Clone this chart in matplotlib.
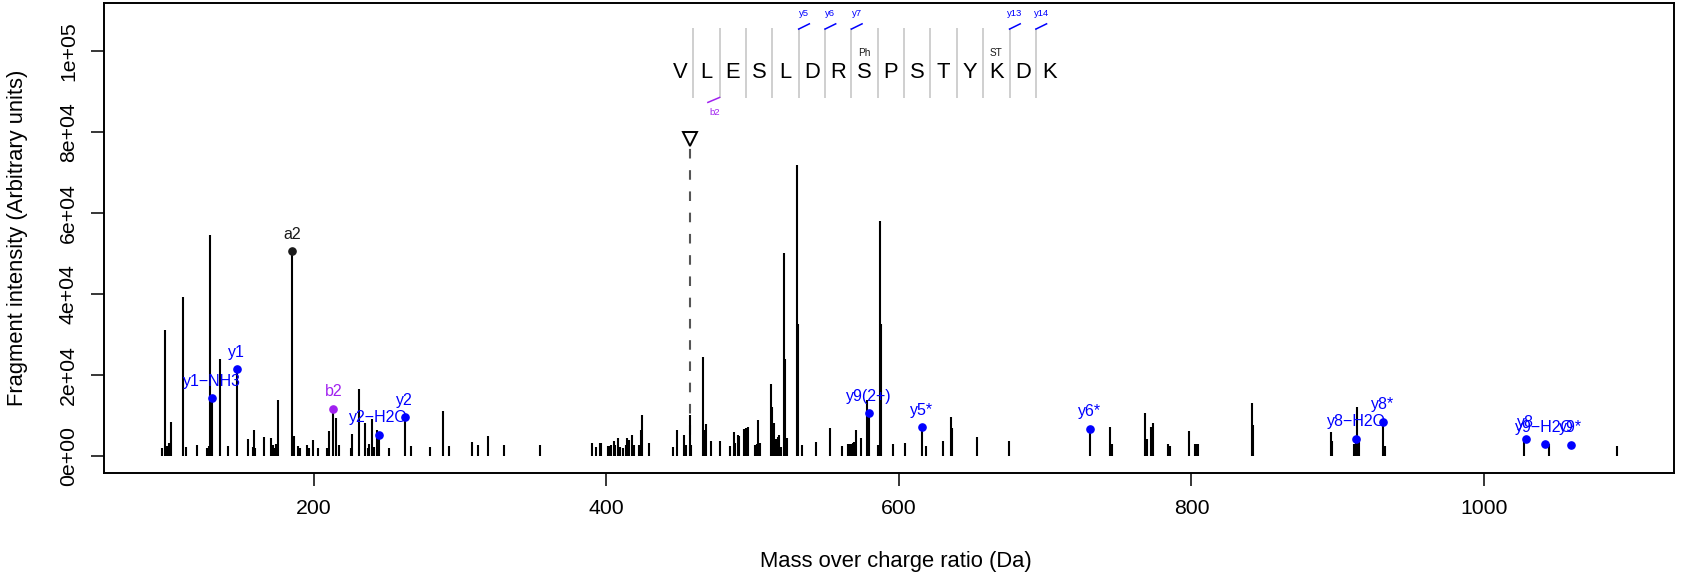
import matplotlib
matplotlib.use("Agg")
import matplotlib.pyplot as plt

plt.rcParams['font.family'] = ['Liberation Sans', 'DejaVu Sans']

# ---------------- data ----------------
peak_mz = [96.1, 98.3, 99.5, 100.9, 102.2, 110.4, 112.5, 120.2, 126.9, 128.2,
           129.3, 130.3, 136.2, 141.2, 147.4, 155.1, 158.3, 159.0, 160.1, 166.0,
           171.0, 172.0, 173.1, 174.0, 175.4, 185.4, 186.3, 189.1, 190.8, 195.4,
           197.0, 199.3, 202.7, 209.1, 210.3, 213.4, 215.5, 217.3, 225.5, 226.2,
           231.2, 235.3, 237.1, 238.0, 239.7, 241.0, 243.1, 244.4, 251.5, 262.2,
           266.5, 279.5, 288.2, 292.5, 308.2, 312.3, 319.4, 330.3, 354.5, 390.0,
           392.8, 395.7, 396.4, 401.2, 402.1, 403.0, 405.1, 406.2, 407.8, 409.6,
           411.2, 413.5, 414.4, 415.5, 417.6, 419.0, 422.4, 423.7, 424.4, 429.4,
           445.6, 448.4, 453.3, 454.3, 457.2, 457.9, 465.9, 466.8, 468.2, 471.4,
           477.5, 484.6, 487.1, 488.2, 489.8, 490.9, 493.9, 495.3, 496.7, 501.7,
           502.8, 503.9, 505.1, 512.4, 513.5, 514.9, 515.8, 517.2, 518.1, 519.5,
           521.5, 522.4, 523.4, 530.2, 530.9, 533.6, 543.6, 553.0, 561.4, 565.0,
           566.1, 567.3, 568.5, 569.4, 570.5, 574.1, 578.0, 579.4, 585.8, 587.1,
           587.8, 595.8, 604.4, 615.6, 618.6, 630.4, 635.9, 636.6, 653.4, 675.5,
           730.5, 744.4, 745.5, 768.3, 769.4, 772.2, 773.5, 784.2, 785.4, 798.4,
           802.3, 803.4, 804.5, 841.4, 842.3, 895.5, 896.4, 911.4, 912.6, 913.5,
           914.4, 930.8, 932.3, 1027.2, 1044.7, 1090.7]
peak_int = [2000, 31000, 2500, 3200, 8500, 39300, 2300, 2800, 2000, 2500,
            54700, 14200, 23900, 2500, 21400, 4300, 2300, 6400, 2000, 4700,
            4500, 2800, 2000, 3000, 13800, 50600, 5000, 2500, 2000, 2700,
            2000, 3900, 2000, 2000, 6200, 11600, 9400, 2800, 2000, 5300,
            16500, 8200, 2000, 3000, 9000, 2300, 6500, 5200, 2000, 9550,
            2500, 2100, 11100, 2500, 3500, 2700, 4800, 2700, 2800, 3100,
            2300, 3100, 3300, 2400, 2400, 2600, 3600, 2600, 4400, 2300,
            2000, 2600, 4400, 3900, 5200, 2800, 2700, 6300, 10000, 3300,
            2300, 6300, 5100, 2800, 10100, 2800, 24400, 6400, 7800, 3800,
            3800, 2500, 5800, 3300, 5200, 4800, 6600, 7000, 7200, 2700,
            3000, 8900, 3300, 17800, 12200, 8100, 4100, 4600, 5200, 2300,
            50100, 24000, 4400, 72000, 32500, 2700, 3400, 7000, 2500, 3000,
            3000, 3000, 3300, 3500, 6400, 4400, 13800, 10500, 2700, 58000,
            32500, 3000, 3300, 7100, 2500, 3800, 9700, 7000, 4600, 3800,
            6700, 7100, 2900, 10700, 4200, 7100, 8100, 3000, 2400, 6100,
            2900, 2900, 2900, 13000, 7600, 5900, 3600, 2900, 4300, 12000,
            4600, 8500, 2500, 4000, 2900, 2500]

ann_mz = [185.4, 130.3, 147.4, 213.4, 244.4, 262.2, 579.4, 615.6, 730.5,
          912.6, 930.8, 1028.5, 1041.5, 1059.5]
ann_int = [50600, 14200, 21400, 11600, 5200, 9550, 10500, 7100, 6700,
           4300, 8500, 4100, 2900, 2800]
ann_label = ["a2", "y1\u2212NH3", "y1", "b2", "y2\u2212H2O", "y2", "y9(2+)",
             "y5*", "y6*", "y8\u2212H2O", "y8*", "y8", "y9\u2212H2O", "y9*"]
ann_color = ["#1A1A1A", "#0000FF", "#0000FF", "#A020F0", "#0000FF", "#0000FF",
             "#0000FF", "#0000FF", "#0000FF", "#0000FF", "#0000FF", "#0000FF",
             "#0000FF", "#0000FF"]

sequence = list("VLESLDRSPSTYKDK")
mod_index = [7, 12]
mod_label = ["Ph", "ST"]
y_mark_index = [5, 6, 7, 13, 14]
y_mark_label = ["y5", "y6", "y7", "y13", "y14"]
b_mark_index = [2]
b_mark_label = ["b2"]

precursor_mz = 457.2
precursor_int = 78000

x_ticks = [200, 400, 600, 800, 1000]
y_ticks = [0, 20000, 40000, 60000, 80000, 100000]
y_tick_labels = ["0e+00", "2e+04", "4e+04", "6e+04", "8e+04", "1e+05"]

# ---------------- figure ----------------
W, H = 1685, 577
fig = plt.figure(figsize=(W / 100, H / 100), dpi=100)
ax = fig.add_axes([104 / W, (H - 473.3) / H, 1570.3 / W, 470.3 / H])
ax.set_xlim(56.6, 1130.1)
ax.set_ylim(-4300, 111950)

# peaks
ax.vlines(peak_mz, 0, peak_int, colors="black", linewidth=1.5, zorder=2,
          capstyle="butt")

# precursor
ax.vlines([precursor_mz], 0, [precursor_int], colors="#555555", linewidth=1.5,
          linestyles=(0, (4.6, 5.6)), zorder=1)
ax.plot([precursor_mz], [precursor_int + 400], marker="v", markersize=10,
        markerfacecolor="white", markeredgecolor="black", markeredgewidth=1.4,
        linestyle="none", zorder=3)

# annotated fragments
for mz, it, lab, col in zip(ann_mz, ann_int, ann_label, ann_color):
    ax.plot([mz], [it], marker="o", markersize=5.2, color=col,
            linestyle="none", zorder=4)
    ax.annotate(lab, (mz, it), xytext=(0, 17), textcoords="offset pixels",
                ha="center", va="center", fontsize=11.5, color=col, zorder=5)

# sequence annotation
seq_x0 = 450.4
seq_dx = 18.02
for i, aa in enumerate(sequence):
    ax.text(seq_x0 + i * seq_dx, 93400, aa, ha="center", va="baseline",
            fontsize=15.8, color="black")
for k in range(1, len(sequence)):
    sx = seq_x0 + (k - 0.5) * seq_dx
    ax.plot([sx, sx], [88420, 105720], color="#CCCCCC", linewidth=1.3,
            solid_capstyle="butt", zorder=1)
for idx, lab in zip(mod_index, mod_label):
    ax.text(seq_x0 + idx * seq_dx, 98800, lab, ha="center", va="baseline",
            fontsize=7.2, color="#1A1A1A")
for idx, lab in zip(y_mark_index, y_mark_label):
    sx = seq_x0 + (idx - 0.5) * seq_dx
    ax.plot([sx, sx + 7.3], [105500, 106800], color="#0000FF", linewidth=1.1)
    ax.text(sx + 3.6, 109300, lab, ha="center", va="center", fontsize=6.8,
            color="#0000FF")
for idx, lab in zip(b_mark_index, b_mark_label):
    sx = seq_x0 + (idx - 0.5) * seq_dx
    ax.plot([sx, sx - 8.0], [88600, 87380], color="#A020F0", linewidth=1.1)
    ax.text(sx - 3.4, 84900, lab, ha="center", va="center", fontsize=6.8,
            color="#A020F0")

# axes styling
for sp in ax.spines.values():
    sp.set_linewidth(1.4)
ax.set_xticks(x_ticks)
ax.set_xticklabels([str(t) for t in x_ticks])
ax.set_yticks(y_ticks)
ax.set_yticklabels(y_tick_labels, rotation=90, va="center")
ax.tick_params(direction="out", length=9.4, width=1.1, labelsize=15.3,
               pad=9.4, colors="black")

ax.set_xlabel("Mass over charge ratio (Da)", fontsize=15.8)
ax.xaxis.set_label_coords(0.5045, -(561.7 - 473.3) / 470.3)
ax.xaxis.label.set_va("center")
ax.set_ylabel("Fragment intensity (Arbitrary units)", fontsize=15.8)
ax.yaxis.set_label_coords((17.5 - 104) / 1570.3, 0.5)
ax.yaxis.label.set_va("center")

fig.savefig("out.png", dpi=100)
